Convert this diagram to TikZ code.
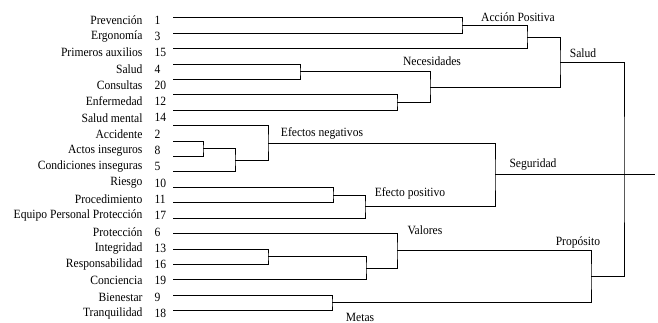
\documentclass[tikz,border=0pt]{standalone}
\usepackage{fontspec}
\setmainfont{Liberation Serif}[FakeStretch=0.92]
\usepackage{tikz}
\usetikzlibrary{positioning}

\begin{document}
\begin{tikzpicture}[x=1pt, y=-1pt, line width=1pt,
  every node/.style={font=\fontsize{12.6}{15}\selectfont, inner sep=0pt},
  lbl/.style={anchor=east},
  num/.style={anchor=west},
  grp/.style={anchor=center}]
\useasboundingbox (0,0) rectangle (658,323);
\foreach \txt/\num [count=\i] in {Prevención/1, Ergonomía/3, Primeros auxilios/15, Salud/4, Consultas/20, Enfermedad/12, Salud mental/14, Accidente/2, Actos inseguros/8, Condiciones inseguras/5, Riesgo/10, Procedimiento/11, Equipo Personal Protección/17, Protección/6, Integridad/13, Responsabilidad/16, Conciencia/19, Bienestar/9, Tranquilidad/18}{
  \node[lbl] (t\i) at (143,{20+16.3*(\i-1)}) {\txt};
  \node[num] (n\i) at (154,{20+16.3*(\i-1)}) {\num};
}
\foreach \j in {1,...,20}
  \coordinate (l\j) at (173,{18+15.4*(\j-1)});
\coordinate (ap1) at (462,25.7);
\coordinate (ap) at (527,37.25);
\coordinate (ne1) at (300,71.9);
\coordinate (ne2) at (397,102.7);
\coordinate (ne) at (430,87.3);
\coordinate (sa) at (560,62.3);
\coordinate (en1) at (203,148.9);
\coordinate (en2) at (235,160.45);
\coordinate (en) at (268,143.1);
\coordinate (ep1) at (333,195.1);
\coordinate (ep) at (365,206.65);
\coordinate (se) at (495,174.9);
\coordinate (va1) at (268,256.7);
\coordinate (va2) at (366,268.25);
\coordinate (va) at (397,250.9);
\coordinate (me) at (332,302.9);
\coordinate (pr) at (591,276.9);
\coordinate (ro) at (624,169.6);
\coordinate (fin) at (655,174.9);

\draw (l1) -| (ap1) |- (l2);
\draw (ap1) -| (ap) |- (l3);
\draw (l4) -| (ne1) |- (l5);
\draw (l6) -| (ne2) |- (l7);
\draw (ne1) -| (ne) |- (ne2);
\draw (ap) -| (sa) |- (ne);
\draw (l9) -| (en1) |- (l10);
\draw (en1) -| (en2) |- (l11);
\draw (l8) -| (en) |- (en2);
\draw (l12) -| (ep1) |- (l13);
\draw (ep1) -| (ep) |- (l14);
\draw (en) -| (se) |- (ep);
\draw (l16) -| (va1) |- (l17);
\draw (va1) -| (va2) |- (l18);
\draw (l15) -| (va) |- (va2);
\draw (l19) -| (me) |- (l20);
\draw (va) -| (pr) |- (me);
\draw (sa) -| (ro) |- (pr);
\draw (se) -- (fin);

\node[grp] (gap) at (518,17) {Acción Positiva};
\node[grp] (gne) at (432,61) {Necesidades};
\node[grp] (gsa) at (583,53) {Salud};
\node[grp] (gen) at (322,133) {Efectos negativos};
\node[grp] (gep) at (410,193) {Efecto positivo};
\node[grp] (gse) at (533,164) {Seguridad};
\node[grp] (gva) at (425,230) {Valores};
\node[grp] (gme) at (360,317) {Metas};
\node[grp] (gpr) at (578,242) {Propósito};
\end{tikzpicture}
\end{document}
